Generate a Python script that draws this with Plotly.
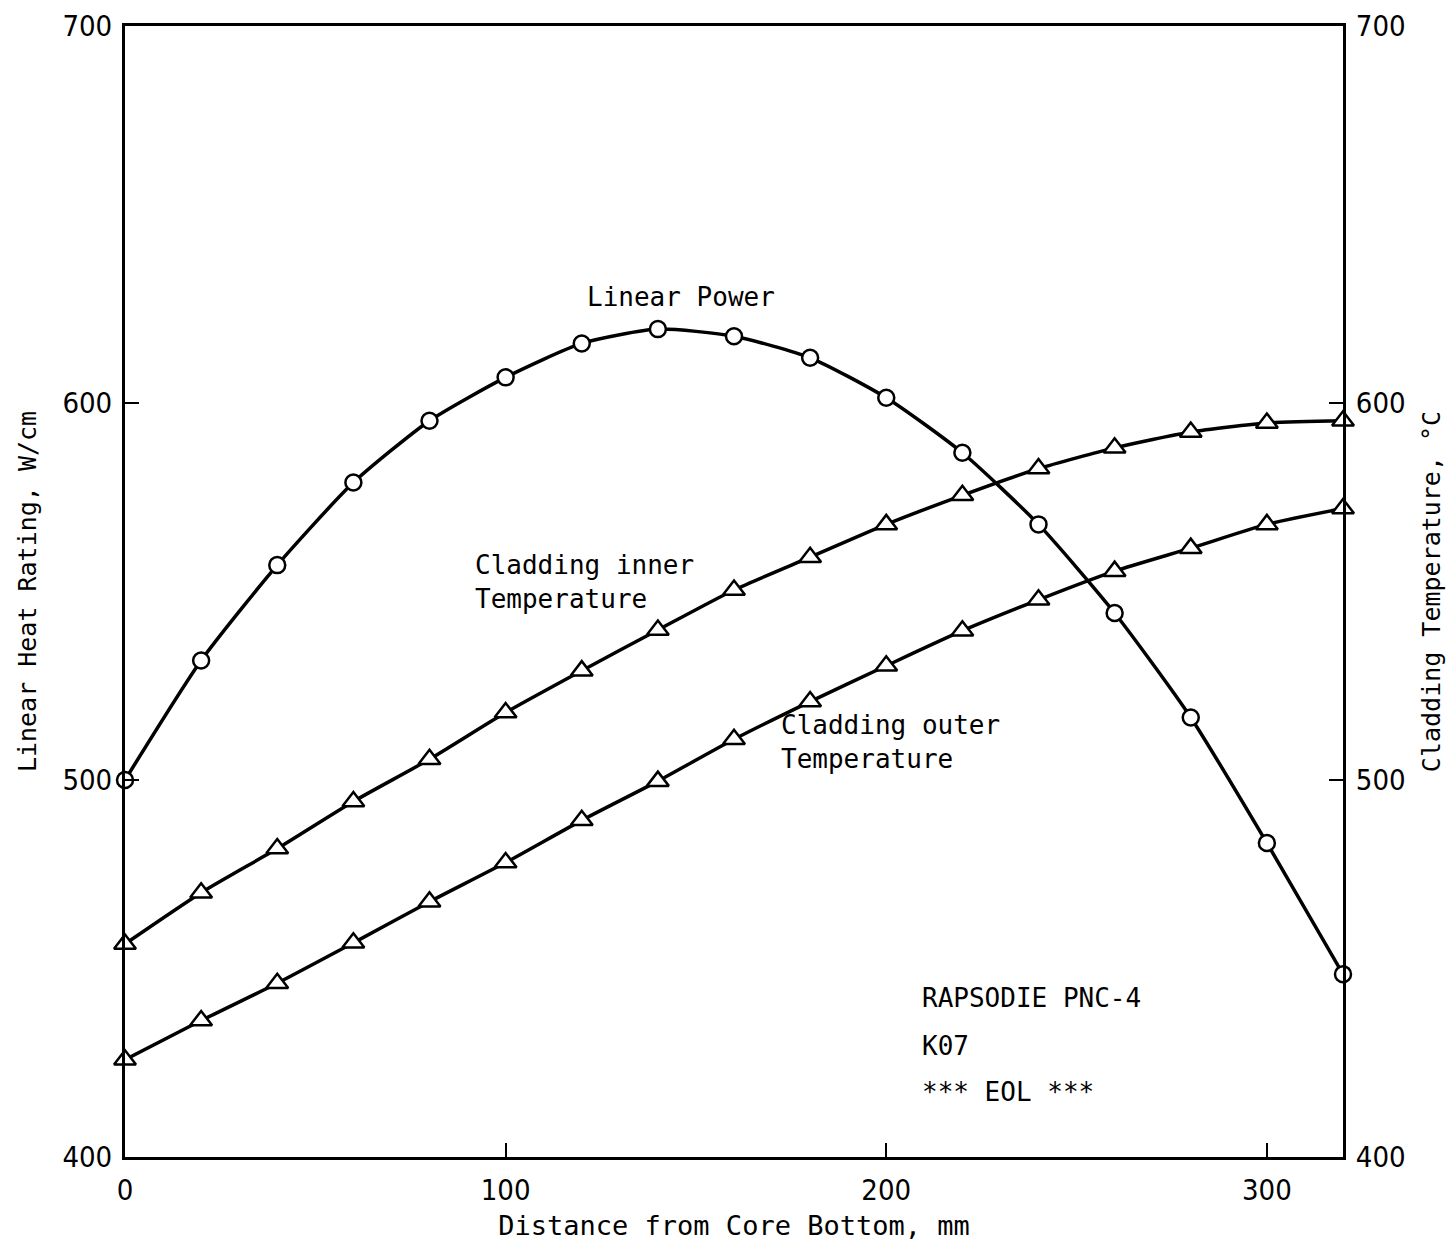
import plotly.graph_objects as go

# Data
distance_mm = [0, 20, 40, 60, 80, 100, 120, 140, 160, 180, 200, 220, 240, 260, 280, 300, 320]
linear_power = [500.0, 531.7, 557.0, 578.9, 595.3, 606.8, 615.8, 619.6, 617.7, 612.0,
                601.4, 586.8, 567.8, 544.3, 516.6, 483.3, 448.5]
clad_inner_temp = [456.5, 470.1, 481.8, 494.3, 505.5, 517.9, 529.0, 539.8, 550.4, 559.1,
                   567.8, 575.5, 582.6, 588.1, 592.3, 594.7, 595.3]
clad_outer_temp = [425.8, 436.2, 446.1, 456.8, 467.7, 478.1, 489.3, 499.7, 510.8, 520.8,
                   530.3, 539.6, 547.8, 555.4, 561.5, 567.8, 572.0]

x_ticks = [0, 100, 200, 300]
y_ticks = [400, 500, 600, 700]

MONO = "DejaVu Sans Mono, Liberation Mono, monospace"
NARROW = "DejaVu Sans Condensed, Liberation Sans Narrow, Arial Narrow, Liberation Sans, sans-serif"

fig = go.Figure()

common_line = dict(color="black", width=3.5, shape="spline", smoothing=0.6)

fig.add_trace(go.Scatter(
    x=distance_mm, y=linear_power, mode="lines+markers", name="Linear Power",
    line=common_line,
    marker=dict(symbol="circle", size=16, color="white", line=dict(color="black", width=2.5)),
    cliponaxis=False,
))
fig.add_trace(go.Scatter(
    x=distance_mm, y=clad_inner_temp, mode="lines+markers", name="Cladding inner Temperature",
    line=common_line, yaxis="y2",
    marker=dict(symbol="triangle-up", size=19, color="white", line=dict(color="black", width=2.5)),
    cliponaxis=False,
))
fig.add_trace(go.Scatter(
    x=distance_mm, y=clad_outer_temp, mode="lines+markers", name="Cladding outer Temperature",
    line=common_line, yaxis="y2",
    marker=dict(symbol="triangle-up", size=19, color="white", line=dict(color="black", width=2.5)),
    cliponaxis=False,
))

axis_common = dict(
    showgrid=False, zeroline=False, showline=True, linecolor="black", linewidth=3,
    ticks="inside", ticklen=14, tickwidth=2, tickcolor="black", automargin=False,
    tickfont=dict(family=NARROW, size=29, color="black"),
)

# The page body adds an 8px offset, so the figure is 16px smaller than the window
fig.update_layout(
    width=1440, height=1233,
    margin=dict(l=117, r=105, t=18, b=84),
    paper_bgcolor="white", plot_bgcolor="white",
    showlegend=False,
    xaxis=dict(
        range=[0, 320], tickvals=x_ticks, mirror=True,
        title=dict(text="Distance from Core Bottom, mm",
                   font=dict(family=MONO, size=27, color="black"), standoff=15),
        ticklabelstandoff=5,
        **axis_common,
    ),
    yaxis=dict(
        range=[400, 700], tickvals=y_ticks,
        title=dict(text="Linear Heat Rating, W/cm",
                   font=dict(family=MONO, size=25, color="black"), standoff=19),
        ticklabelstandoff=4,
        **axis_common,
    ),
    yaxis2=dict(
        range=[400, 700], tickvals=y_ticks, overlaying="y", side="right",
        title=dict(text="Cladding Temperature, °C",
                   font=dict(family=MONO, size=25, color="black"), standoff=18),
        ticklabelstandoff=4,
        **axis_common,
    ),
)

ann_font = dict(family=MONO, size=26, color="black")
labels = [
    (120.8, 628.1, "Linear Power"),
    (91.4, 552.5, "Cladding inner<br>Temperature"),
    (171.8, 510.1, "Cladding outer<br>Temperature"),
    (208.8, 442.2, "RAPSODIE PNC-4"),
    (208.8, 429.4, "K07"),
    (208.8, 417.2, "*** EOL ***"),
]
for lx, ly, txt in labels:
    fig.add_annotation(x=lx, y=ly, xref="x", yref="y", text=txt, showarrow=False,
                       xanchor="left", yanchor="middle", align="left", font=ann_font)

fig.write_html("out.html")
